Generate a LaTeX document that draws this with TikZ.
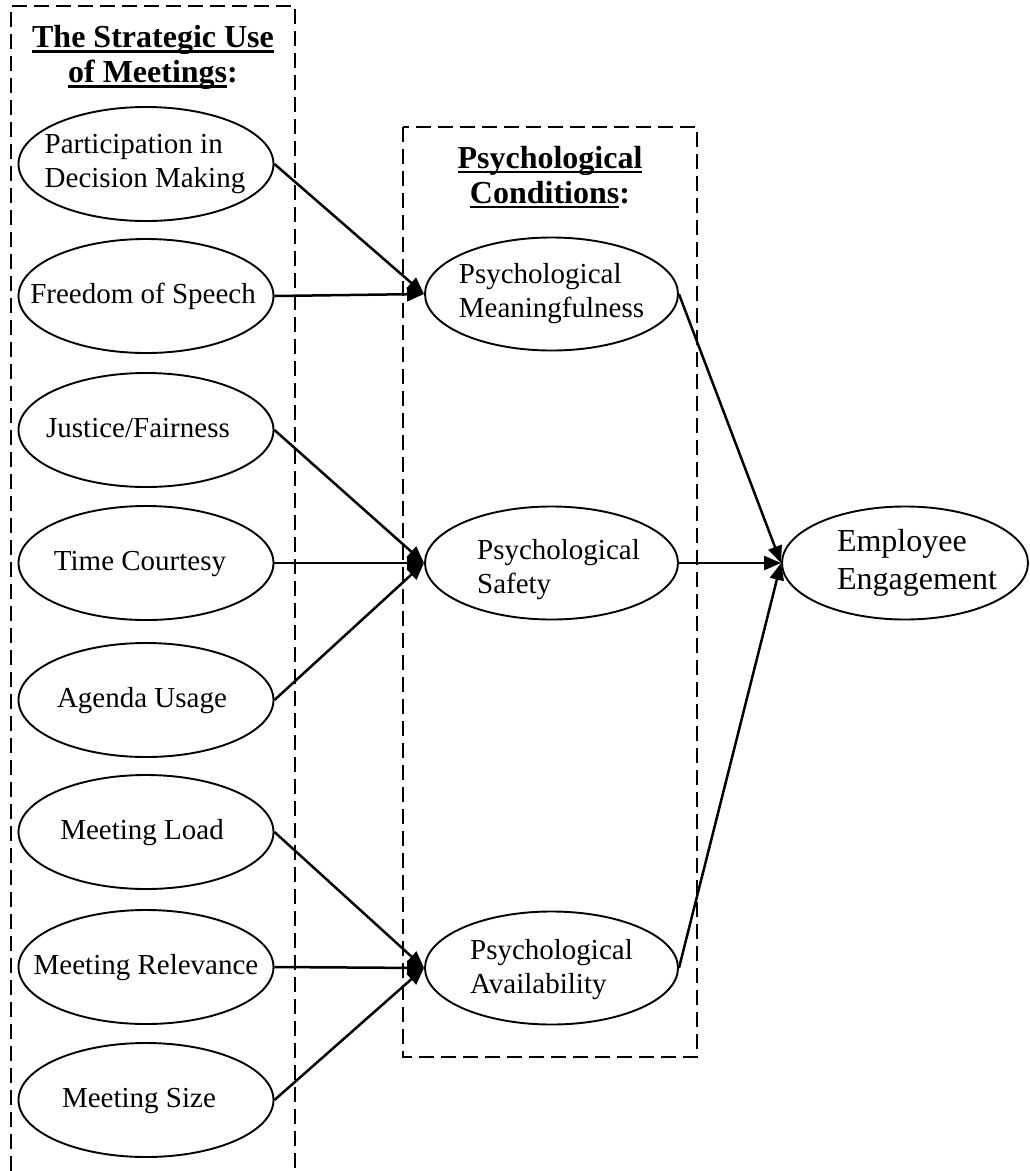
\documentclass[tikz,border=0pt]{standalone}
\usepackage{fontspec}
\setmainfont{Liberation Serif}
\usetikzlibrary{shapes.geometric,arrows.meta}

% underline that sits just below the baseline and runs through descenders
\newsavebox\ulinebox
\newcommand\titleul[1]{\sbox\ulinebox{#1}\rlap{\rule[-5pt]{\wd\ulinebox}{2.2pt}}\usebox\ulinebox}

\begin{document}
\begin{tikzpicture}[x=1pt,y=-1pt,
  frame/.style={draw, line width=2pt, dash pattern=on 15pt off 7pt},
  factor/.style={ellipse, draw, line width=1.9pt, minimum width=255pt, minimum height=114pt, inner sep=0pt},
  cond/.style={ellipse, draw, line width=1.9pt, minimum width=253pt, minimum height=113pt, inner sep=0pt},
  outcome/.style={ellipse, draw, line width=1.9pt, minimum width=246pt, minimum height=113pt, inner sep=0pt},
  lbl/.style={inner sep=0pt, align=left, font=\fontsize{29}{34}\selectfont},
  oneline/.style={lbl, text height=20pt, text depth=6pt},
  biglbl/.style={inner sep=0pt, align=left, font=\fontsize{32}{38}\selectfont},
  heading/.style={inner sep=0pt, align=center, font=\fontsize{32}{35}\selectfont\bfseries},
  conn/.style={line width=2.5pt, -{Triangle[length=17pt,width=14pt]}}
]
\useasboundingbox (0,0) rectangle (1029,1171);

% group frames
\draw[frame] (11,1171) -- (11,6) -- (295,6) -- (295,1171);
\draw[frame] (403,127) rectangle (697,1057);

% headings
\node[heading] (h1) at (153,57.5) {\titleul{The Strategic Use}\\\titleul{of Meetings}:};
\node[heading] (h2) at (550,177) {\titleul{Psychological}\\\titleul{Conditions}:};

% meeting factors
\node[factor, label={[lbl,name=pdm-t,xshift=-1pt]center:{Participation in\\Decision Making}}] (pdm) at (146,164) {};
\node[factor, label={[oneline,name=fos-t,xshift=-3pt]center:Freedom of Speech}] (fos) at (146,296) {};
\node[factor, label={[oneline,name=jf-t,xshift=-8pt]center:Justice/Fairness}] (jf) at (146,430) {};
\node[factor, label={[oneline,name=tc-t,xshift=-6pt]center:Time Courtesy}] (tc) at (146,563) {};
\node[factor, label={[oneline,name=au-t,xshift=-4pt]center:Agenda Usage}] (au) at (146,700) {};
\node[factor, label={[oneline,name=ml-t,xshift=-4pt]center:Meeting Load}] (ml) at (146,832) {};
\node[factor, label={[oneline,name=mr-t]center:Meeting Relevance}] (mr) at (146,967) {};
\node[factor, label={[oneline,name=ms-t,xshift=-7pt]center:Meeting Size}] (ms) at (146,1100) {};

% psychological conditions
\node[cond, label={[lbl,name=pm-t]center:{Psychological\\Meaningfulness}}] (pm) at (551.5,294) {};
\node[cond, label={[lbl,name=ps-t,xshift=7pt,yshift=-7pt]center:{Psychological\\Safety}}] (ps) at (551.5,563) {};
\node[cond, label={[lbl,name=pa-t,yshift=-2pt]center:{Psychological\\Availability}}] (pa) at (551.5,968) {};

% outcome
\node[outcome, label={[biglbl,name=ee-t,xshift=12pt]center:{Employee\\Engagement}}] (ee) at (905,563) {};

% paths
\draw[conn] (pdm.east) -- (pm.west);
\draw[conn] (fos.east) -- (pm.west);
\draw[conn] (jf.east) -- (ps.west);
\draw[conn] (tc.east) -- (ps.west);
\draw[conn] (au.east) -- (ps.west);
\draw[conn] (ml.east) -- (pa.west);
\draw[conn] (mr.east) -- (pa.west);
\draw[conn] (ms.east) -- (pa.west);
\draw[conn] (pm.east) -- (ee.west);
\draw[conn] (ps.east) -- (ee.west);
\draw[conn] (pa.east) -- (ee.west);
\end{tikzpicture}
\end{document}
